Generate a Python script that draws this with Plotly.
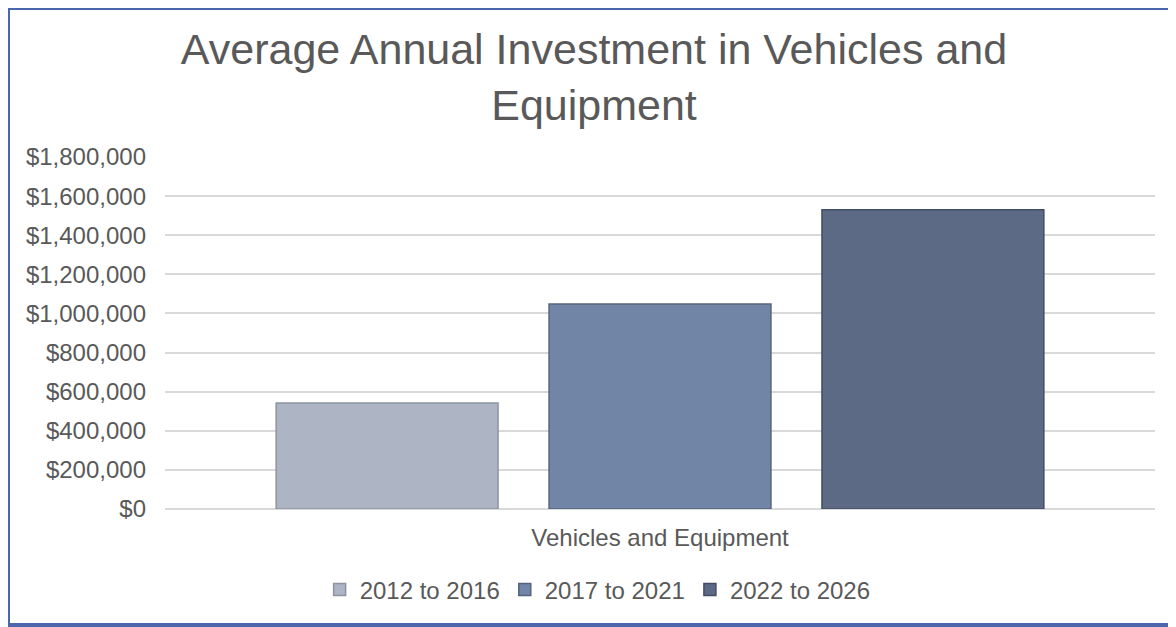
import plotly.graph_objects as go

# data
category = ["Vehicles and Equipment"]
periods = ["2012 to 2016", "2017 to 2021", "2022 to 2026"]
investment = [542000, 1048000, 1530000]

bar_colors = ["#adb4c4", "#7185a6", "#5c6a86"]
line_colors = ["#8d93a1", "#56647e", "#434e66"]

# page adds an 8px body margin, so the figure is sized 8px smaller
W, H = 1168, 619
L, R, T, B = 157, 21, 149, 118
pw, ph = W - L - R, H - T - B

fig = go.Figure()
for name, val, col, lc in zip(periods, investment, bar_colors, line_colors):
    fig.add_trace(go.Bar(name=name, x=category, y=[val],
                         marker=dict(color=col, line=dict(color=lc, width=1.5))))

fig.update_layout(
    width=W, height=H,
    barmode="group", bargap=0.173, bargroupgap=0.187,
    plot_bgcolor="white", paper_bgcolor="white",
    font=dict(family="Liberation Sans, Arial, sans-serif", color="#595959", size=24),
    title=dict(text="Average Annual Investment in Vehicles and<br>Equipment",
               x=586 / W, xanchor="center", y=1 - 56 / H, yanchor="middle",
               font=dict(size=43, color="#595959")),
    margin=dict(l=L, r=R, t=T, b=B, autoexpand=False),
    legend=dict(orientation="h", x=0.437, xanchor="center",
                y=-0.23, yanchor="middle", font=dict(size=24, color="#595959"),
                traceorder="normal"),
    shapes=[dict(type="rect", xref="paper", yref="paper",
                 x0=(0 - L) / pw, x1=(1200 - L) / pw,
                 y0=(T + ph - 617) / ph, y1=(T + ph - 0) / ph,
                 line=dict(color="#4a67ae", width=4), layer="above")],
)
fig.update_xaxes(showline=False, ticks="", ticklabelstandoff=12,
                 tickfont=dict(size=24, color="#595959"))
fig.update_yaxes(range=[0, 1800000], dtick=200000, tickformat="$,.0f",
                 showgrid=True, gridcolor="#d9d9d9", gridwidth=2,
                 zeroline=True, zerolinecolor="#d9d9d9", zerolinewidth=2,
                 showline=False, ticks="", ticklen=0, ticklabelstandoff=18,
                 tickfont=dict(size=24, color="#595959"))

fig.write_html("out.html")
